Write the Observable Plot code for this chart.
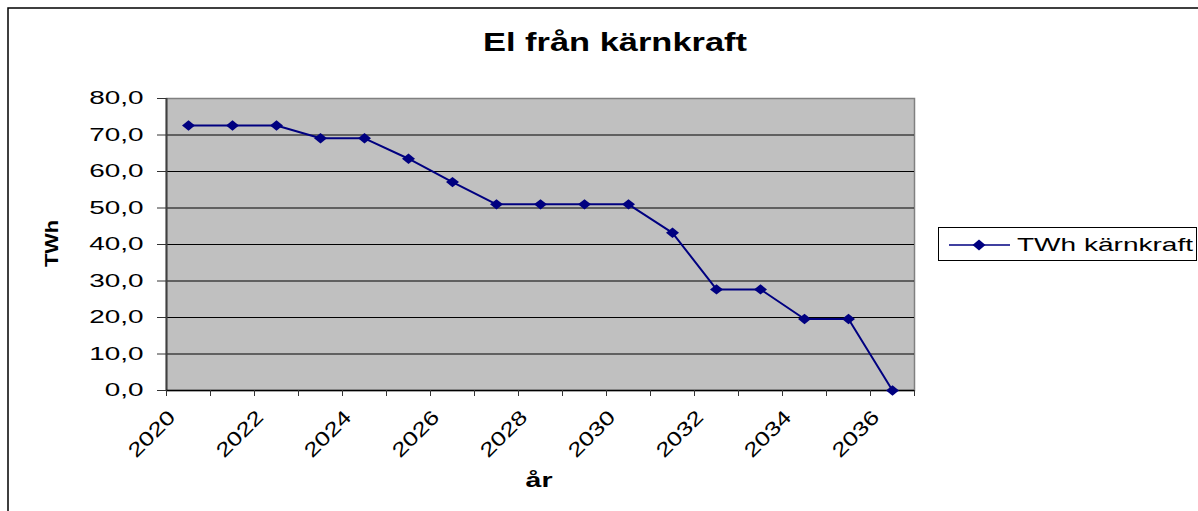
<!DOCTYPE html>
<html>
<head>
<meta charset="utf-8">
<script src="https://cdn.jsdelivr.net/npm/d3@7"></script>
<script src="https://cdn.jsdelivr.net/npm/@observablehq/plot@0.6"></script>
<style>
  html, body { margin: 0; padding: 0; background: #fff; }
  #chart { width: 1198px; height: 511px; overflow: hidden; }
</style>
</head>
<body>
<div id="chart"></div>
<script>
// ---- data ----
const years = [2020, 2021, 2022, 2023, 2024, 2025, 2026, 2027, 2028, 2029, 2030, 2031, 2032, 2033, 2034, 2035, 2036];
const twhNuclear = [72.6, 72.6, 72.6, 69.1, 69.1, 63.5, 57.1, 51.0, 51.0, 51.0, 51.0, 43.2, 27.7, 27.7, 19.6, 19.6, 0.0];
const yTicks = [0, 10, 20, 30, 40, 50, 60, 70, 80];
const xTickYears = [2020, 2021, 2022, 2023, 2024, 2025, 2026, 2027, 2028, 2029, 2030, 2031, 2032, 2033, 2034, 2035, 2036, 2037];
const xLabelYears = [2020, 2022, 2024, 2026, 2028, 2030, 2032, 2034, 2036];
const titleText = "El från kärnkraft";
const yLabel = "TWh";
const xLabel = "år";
const seriesName = "TWh kärnkraft";

const table = years.map((year, i) => ({year, value: twhNuclear[i]}));

const NAVY = "#000080";
const FONT = "'Liberation Sans', Arial, Helvetica, sans-serif";

// wide diamond symbol (Excel style)
const wideDiamond = {
  draw(ctx, size) {
    const r = Math.sqrt(size / Math.PI);
    ctx.moveTo(-r * 1.25, 0);
    ctx.lineTo(0, -r);
    ctx.lineTo(r * 1.25, 0);
    ctx.lineTo(0, r);
    ctx.closePath();
  }
};

const fmt = d => d.toFixed(1).replace(".", ",");

const plot = Plot.plot({
  width: 1198,
  height: 511,
  marginLeft: 166,
  marginRight: 284,
  marginTop: 98,
  marginBottom: 121,
  style: {fontFamily: FONT, background: "transparent", color: "#000"},
  x: {type: "linear", domain: [2020, 2037]},
  y: {domain: [0, 80]},
  marks: [
    Plot.frame({fill: "#c0c0c0", stroke: "#808080", strokeWidth: 1.5}),
    Plot.ruleY(yTicks.filter(v => v > 0 && v < 80), {stroke: "#000", strokeWidth: 1}),
    Plot.ruleX([2020], {stroke: "#404040", strokeWidth: 2}),
    Plot.ruleY([0], {stroke: "#000", strokeWidth: 1.5}),
    Plot.axisY({ticks: yTicks, tickFormat: fmt, tickSize: 9, tickPadding: 14, fontSize: 18, stroke: "#333", label: null}),
    Plot.axisX({ticks: xTickYears, tickFormat: () => "", tickSize: 6, stroke: "#333", label: null}),
    Plot.text(xLabelYears, {
      x: d => d, text: d => String(d), frameAnchor: "bottom", dy: 18,
      rotate: -45, textAnchor: "end", lineAnchor: "top", fontSize: 20, fill: "#000"
    }),
    Plot.line(table, {x: d => d.year + 0.5, y: "value", stroke: NAVY, strokeWidth: 2}),
    Plot.dot(table, {x: d => d.year + 0.5, y: "value", symbol: wideDiamond, r: 5.2, fill: NAVY, stroke: "none"})
  ]
});

document.getElementById("chart").appendChild(plot);

const svg = d3.select(plot);

// stretch tick labels horizontally as in the reference
svg.selectAll('g[aria-label="y-axis tick label"] text').each(function() {
  const w = this.getComputedTextLength();
  d3.select(this).attr("textLength", w * 1.55).attr("lengthAdjust", "spacingAndGlyphs");
});
svg.selectAll('g[aria-label="text"] text').each(function() {
  const w = this.getComputedTextLength();
  d3.select(this).attr("textLength", w * 1.28).attr("lengthAdjust", "spacingAndGlyphs");
});

// outer chart border
svg.insert("rect", ":first-child")
  .attr("x", 8).attr("y", 8).attr("width", 1400).attr("height", 700)
  .attr("fill", "#fff").attr("stroke", "#000").attr("stroke-width", 1.5);

// title
svg.append("text")
  .attr("x", 615).attr("y", 51)
  .attr("text-anchor", "middle")
  .attr("font-family", FONT).attr("font-weight", "bold").attr("font-size", 25)
  .attr("textLength", 264).attr("lengthAdjust", "spacingAndGlyphs")
  .text(titleText);

// y label
svg.append("text")
  .attr("transform", "translate(58,243.5) rotate(-90)")
  .attr("text-anchor", "middle")
  .attr("font-family", FONT).attr("font-weight", "bold").attr("font-size", 18)
  .attr("textLength", 47).attr("lengthAdjust", "spacingAndGlyphs")
  .text(yLabel);

// x label
svg.append("text")
  .attr("x", 539).attr("y", 487)
  .attr("text-anchor", "middle")
  .attr("font-family", FONT).attr("font-weight", "bold").attr("font-size", 20)
  .attr("textLength", 27).attr("lengthAdjust", "spacingAndGlyphs")
  .text(xLabel);

// legend
const lg = svg.append("g");
lg.append("rect").attr("x", 938.5).attr("y", 227.5).attr("width", 258).attr("height", 33)
  .attr("fill", "#fff").attr("stroke", "#000").attr("stroke-width", 1);
lg.append("line").attr("x1", 949).attr("x2", 1010).attr("y1", 245).attr("y2", 245)
  .attr("stroke", NAVY).attr("stroke-width", 1.5);
lg.append("path").attr("transform", "translate(979,245)")
  .attr("d", "M-6.5,0L0,-5.5L6.5,0L0,5.5Z").attr("fill", NAVY);
lg.append("text").attr("x", 1017).attr("y", 251)
  .attr("text-anchor", "start")
  .attr("font-family", FONT).attr("font-size", 19)
  .attr("textLength", 176).attr("lengthAdjust", "spacingAndGlyphs")
  .text(seriesName);
</script>
</body>
</html>
